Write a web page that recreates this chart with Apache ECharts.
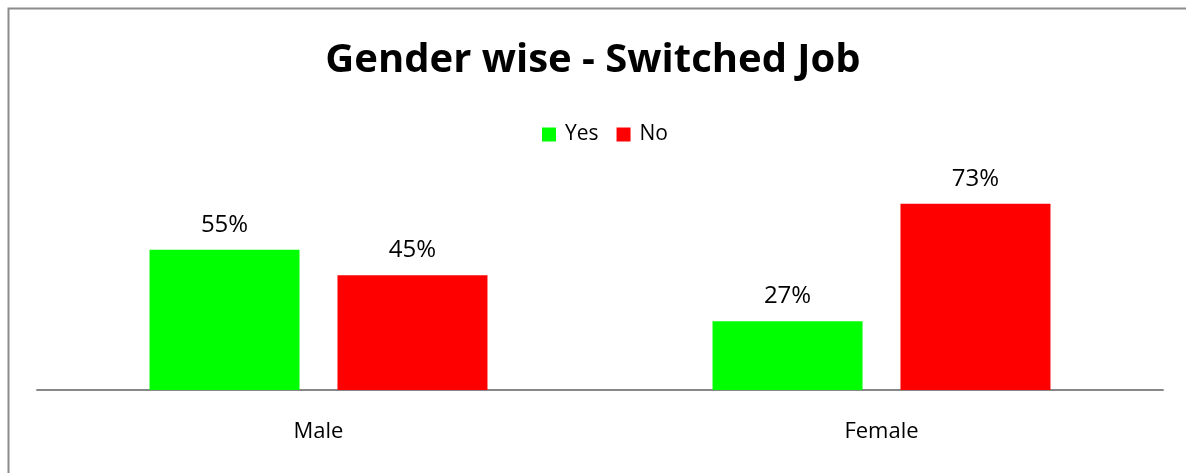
<!DOCTYPE html>
<html>
<head>
<meta charset="utf-8">
<script src="https://cdn.jsdelivr.net/npm/echarts@6/dist/echarts.min.js"></script>
<style>
  html, body { margin: 0; padding: 0; background: #fff; }
  #chart { width: 1186px; height: 473px; }
</style>
</head>
<body>
<div id="chart"></div>
<script>
// Share of respondents who switched job, split by gender
const categories = ['Male', 'Female'];
const yesValues = [55, 27];
const noValues = [45, 73];
const seriesNames = ['Yes', 'No'];

const chart = echarts.init(document.getElementById('chart'), null, { renderer: 'canvas' });
const labelFont = "'Open Sans', 'DejaVu Sans', sans-serif";

chart.setOption({
  animation: false,
  backgroundColor: '#ffffff',
  graphic: [
    {
      type: 'rect',
      shape: { x: 8.5, y: 8.5, width: 1200, height: 500 },
      style: { fill: 'none', stroke: '#8c8c8c', lineWidth: 2 },
      silent: true
    },
    {
      type: 'text',
      left: 10, top: -17,
      style: { text: 'Chart Title', fill: '#7f7f7f', font: "20px 'Open Sans', sans-serif" },
      silent: true
    }
  ],
  title: {
    text: 'Gender wise - Switched Job',
    left: 'center',
    top: 36,
    textStyle: { fontFamily: labelFont, fontWeight: 'bold', fontSize: 40, color: '#000' }
  },
  legend: {
    data: seriesNames,
    top: 119,
    left: 537,
    itemWidth: 14,
    itemHeight: 14,
    itemGap: 18,
    icon: 'rect',
    textStyle: { fontFamily: labelFont, fontSize: 21, color: '#000', padding: [0, 0, 0, 4] }
  },
  grid: { left: 37, right: 23, top: 186, bottom: 83, containLabel: false },
  xAxis: {
    type: 'category',
    data: categories,
    axisLine: { lineStyle: { color: '#888888', width: 2 } },
    axisTick: { show: false },
    axisLabel: { fontFamily: labelFont, fontSize: 22, color: '#000', margin: 31 }
  },
  yAxis: {
    type: 'value',
    min: 0, max: 80,
    show: false,
    splitLine: { show: false }
  },
  series: [
    {
      name: seriesNames[0],
      type: 'bar',
      data: yesValues,
      barWidth: 150,
      barGap: '25.3%',
      itemStyle: { color: '#00ff00' },
      label: { show: true, position: 'top', distance: 13, formatter: '{c}%', fontFamily: labelFont, fontSize: 24, color: '#000' }
    },
    {
      name: seriesNames[1],
      type: 'bar',
      data: noValues,
      barWidth: 150,
      itemStyle: { color: '#ff0000' },
      label: { show: true, position: 'top', distance: 13, formatter: '{c}%', fontFamily: labelFont, fontSize: 24, color: '#000' }
    }
  ]
});
</script>
</body>
</html>
